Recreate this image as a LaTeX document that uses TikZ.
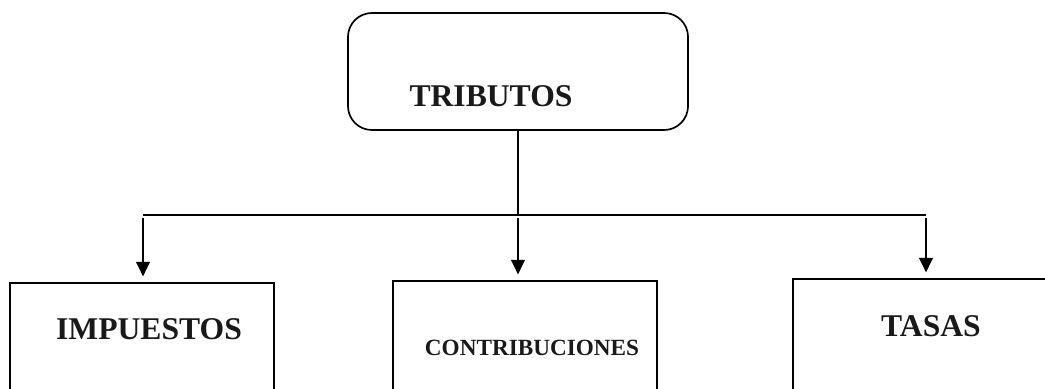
\documentclass[tikz,border=0pt]{standalone}
\usepackage{fontspec}
\setmainfont{Liberation Serif}
\usetikzlibrary{arrows.meta}

\begin{document}
\begin{tikzpicture}[
    rbox/.style={draw,line width=1.2pt,rounded corners=.6cm,minimum width=8.5cm,minimum height=2.925cm},
    box/.style={draw,line width=1.2pt,minimum width=6.6cm,minimum height=5cm},
    big/.style={font=\fontsize{22.5}{26}\selectfont\bfseries,text=black!90},
    small/.style={font=\fontsize{16.5}{20}\selectfont\bfseries,text=black!90},
    arr/.style={line width=1.2pt,-{Triangle[length=.36cm,width=.34cm]},shorten <=.08cm,shorten >=.14cm},
    x=.025cm,y=-.025cm
    ]
    \useasboundingbox (0,0) rectangle (1045,388);
    \clip (0,0) rectangle (1045,388);
    \node[rbox](tributos) at (518,71.5){};
    \node[big](tributostxt) at (491,96){TRIBUTOS};
    \node[box,anchor=north west](impuestos) at (9,282){};
    \node[box,anchor=north west](contribuciones) at (392,280){};
    \node[box,anchor=north west,minimum width=8cm](tasas) at (792,278){};
    \node[big](impuestostxt) at (149,329){IMPUESTOS};
    \node[small](contribucionestxt) at (532,348){CONTRIBUCIONES};
    \node[big](tasastxt) at (931,326){TASAS};
    \coordinate (busL) at (143,215);
    \coordinate (busM) at (tributos.south |- busL);
    \coordinate (busR) at (926,215);
    \draw[line width=1.2pt] (tributos.south) -- (busM);
    \draw[line width=1.2pt] (busL) -- (busR);
    \draw[arr] (busL) -- (busL |- impuestos.north);
    \draw[arr] (busM) -- (busM |- contribuciones.north);
    \draw[arr] (busR) -- (busR |- tasas.north);
  \end{tikzpicture}
\end{document}
